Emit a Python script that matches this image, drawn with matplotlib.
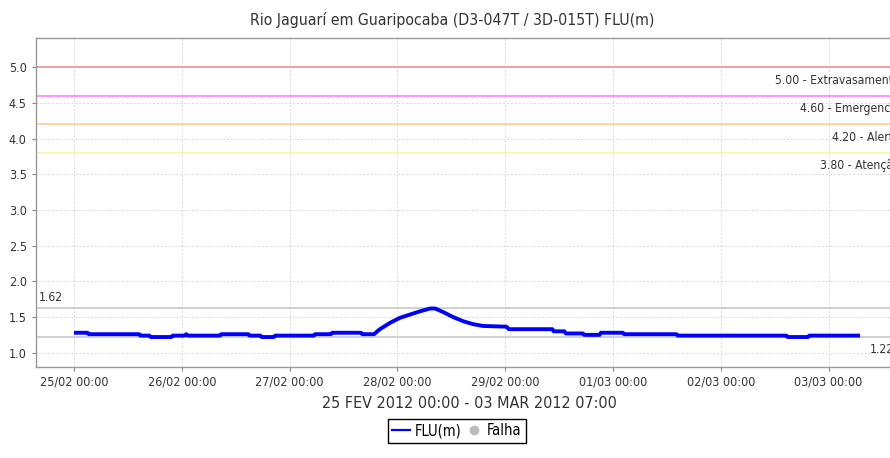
# Rio Jaguari em Guaripocaba - nivel FLU(m)

import matplotlib
matplotlib.use("Agg")
import matplotlib.pyplot as plt
import matplotlib.dates as mdates
from matplotlib.lines import Line2D
import pandas as pd

plt.rcParams['font.family'] = ['DejaVu Sans']
plt.rcParams['font.stretch'] = 'condensed'

start = pd.Timestamp("2012-02-25 00:00")

# hours after 25/02 00:00 and river level (m)
hours = [0, 3.0, 3.3, 14.5, 14.8, 16.8, 17.1, 21.7, 22.0, 24.6,
         25.0, 25.4, 32.5, 32.8, 38.8, 39.1, 41.5, 41.8, 44.5, 44.8,
         53.4, 53.7, 57.2, 57.5, 63.9, 64.2, 66.8, 68.1, 70.4, 72.6,
         74.8, 77.0, 79.3, 80.4, 82.2, 84.4, 86.7, 88.9, 91.1, 96.3,
         96.8, 106.5, 106.8, 109.2, 109.5, 113.3, 113.6, 117.0, 117.3, 122.2,
         122.5, 134.1, 134.4, 158.6, 158.9, 163.4, 163.7, 175.0]
level = [1.28, 1.28, 1.26, 1.26, 1.24, 1.24, 1.22, 1.22, 1.24, 1.24,
         1.26, 1.24, 1.24, 1.26, 1.26, 1.24, 1.24, 1.22, 1.22, 1.24,
         1.24, 1.26, 1.26, 1.28, 1.28, 1.26, 1.26, 1.33, 1.42, 1.49,
         1.535, 1.58, 1.62, 1.62, 1.57, 1.50, 1.44, 1.40, 1.375, 1.365,
         1.33, 1.33, 1.30, 1.30, 1.27, 1.27, 1.25, 1.25, 1.28, 1.28,
         1.26, 1.26, 1.24, 1.24, 1.22, 1.22, 1.24, 1.24]

# alert levels
lim_val = [5.00, 4.60, 4.20, 3.80]
lim_name = ["Extravasamento", "Emergencia", "Alerta", "Atenção"]
lim_col = ['#ee8c8c', '#ff77ff', '#ffc88c', '#fff0a0']

vmax = 1.62
vmin = 1.22

times = [start + pd.Timedelta(hours=h) for h in hours]

fig = plt.figure(figsize=(8.9, 4.58), dpi=100)
ax = fig.add_axes([0.0401, 0.1993, 0.9745, 0.7184])

tc = '#333333'
ax.set_xlim(start - pd.Timedelta(days=0.355), start + pd.Timedelta(days=7.69))
ax.set_ylim(0.804, 5.415)

# grid
ax.grid(True, color='#d8d8d8', linestyle=(0, (2, 2)), linewidth=0.7)
ax.set_axisbelow(True)

for v, n, c in zip(lim_val, lim_name, lim_col):
	ax.axhline(v, color=c, linewidth=1.1, zorder=2)
	ax.text(0.996, v - 0.09, "%.2f - %s" % (v, n), transform=ax.get_yaxis_transform(),
		ha='right', va='top', fontsize=8.7, color=tc)

# max / min lines
ax.axhline(vmax, color='#c4c4c4', linewidth=1.1, zorder=2)
ax.axhline(vmin, color='#c4c4c4', linewidth=1.1, zorder=2)
ax.text(0.003, vmax + 0.06, "%.2f" % vmax, transform=ax.get_yaxis_transform(),
	ha='left', va='bottom', fontsize=8.7, color=tc)
ax.text(0.962, vmin - 0.08, "%.2f" % vmin, transform=ax.get_yaxis_transform(),
	ha='left', va='top', fontsize=8.7, color=tc)

ax.plot(times, level, color='#0000ff', linewidth=2.8, solid_capstyle='butt', zorder=3)

ax.xaxis.set_major_locator(mdates.DayLocator())
ax.xaxis.set_major_formatter(mdates.DateFormatter('%d/%m %H:%M'))
ax.set_yticks([1.0, 1.5, 2.0, 2.5, 3.0, 3.5, 4.0, 4.5, 5.0])
ax.yaxis.set_major_formatter(matplotlib.ticker.FormatStrFormatter('%.1f'))
ax.tick_params(labelsize=9, colors='#888888', labelcolor=tc, length=3, width=0.8)

for s in ['left', 'bottom', 'top']:
	ax.spines[s].set_color('#999999')
	ax.spines[s].set_linewidth(1.0)
ax.spines['right'].set_visible(False)

ax.set_title("Rio Jaguarí em Guaripocaba (D3-047T / 3D-015T) FLU(m)", fontsize=11.3, color=tc,
	pad=9, x=0.48)
ax.set_xlabel("25 FEV 2012 00:00 - 03 MAR 2012 07:00", fontsize=11.5, color=tc, labelpad=5)

handles = [Line2D([], [], color='#0000ff', linewidth=1.6),
	Line2D([], [], linestyle='none', marker='o', color='#bbbbbb', markersize=6)]
fig.legend(handles, ['FLU(m)', 'Falha'], loc='upper left', bbox_to_anchor=(388/890, 1 - 419/458),
	ncol=2, fontsize=10.5, frameon=True, fancybox=False, edgecolor='black', framealpha=1,
	borderaxespad=0, handlelength=1.2, handletextpad=0.3, columnspacing=0.3, borderpad=0.3)

fig.savefig("out.png", dpi=100)
